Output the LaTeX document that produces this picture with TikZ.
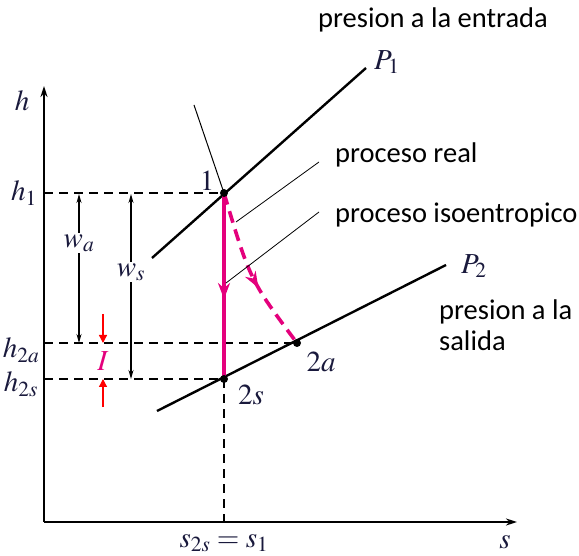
\documentclass[tikz,border=0pt]{standalone}
\usepackage{mathptmx}
\usepackage[no-math]{fontspec}
\setmainfont{Carlito}
\usetikzlibrary{arrows.meta,decorations.markings}
\definecolor{mag}{RGB}{228,0,124}
\definecolor{lbl}{RGB}{25,25,60}
\begin{document}
\begin{tikzpicture}[x=1pt,y=-1pt,
  axis/.style={line width=1.8pt,-{Stealth[length=11pt,width=7pt]}},
  isobar/.style={line width=2.4pt},
  guide/.style={dashed,dash pattern=on 9pt off 6pt,line width=1.2pt},
  dim/.style={line width=1.2pt,{Stealth[length=9pt,width=5pt]}-{Stealth[length=9pt,width=5pt]}},
  reddim/.style={red,line width=1.3pt,-{Triangle[length=8pt,width=8pt]}},
  leader/.style={line width=0.8pt},
  dot/.style={circle,fill=black,inner sep=0pt,minimum size=8pt},
  math/.style={text=lbl,font=\fontsize{29}{32}\selectfont,inner sep=1pt},
  txt/.style={font=\fontsize{28.5}{31}\selectfont,inner sep=0pt,anchor=west},
  midarrow/.style={postaction={decorate},decoration={markings,mark=at position #1 with {\arrow[solid]{Stealth[length=16pt,width=12pt]}}}}
]
\useasboundingbox (0,0) rectangle (579,556);
% axes
\coordinate (O) at (44,522);
\coordinate (ytop) at (44,86);
\coordinate (xend) at (517,522);
\draw[axis] (O) -- (ytop);
\draw[axis] (O) -- (xend);
\node[math] (hlab) at (22,101) {$h$};
\node[math] (slab) at (505,542) {$s$};
% state points
\coordinate (p1) at (224,193);
\coordinate (p2a) at (297,343);
\coordinate (p2s) at (224,379);
\coordinate (xs) at (224,522);
% guide lines
\draw[guide] (44,193) -- (p1);
\draw[guide] (44,343) -- (p2a);
\draw[guide] (44,379) -- (p2s);
\draw[guide] (p2s) -- (xs);
% isobars
\coordinate (P1a) at (152,258);
\coordinate (P1b) at (366,68);
\coordinate (P2a) at (157,411);
\coordinate (P2b) at (446,265);
\draw[isobar] (P1a) -- (P1b);
\draw[isobar] (P2a) -- (P2b);
\node[math,anchor=west] (P1lab) at (373,62) {$P_1$};
\node[math,anchor=west] (P2lab) at (460,266) {$P_2$};
% thin line to point 1
\coordinate (sat) at (194,105);
\draw[line width=1pt] (sat) -- (p1);
% processes
\draw[mag,line width=3.6pt,midarrow=0.57] (p1) -- (p2s);
\draw[mag,line width=3.6pt,dash pattern=on 12pt off 7pt,midarrow=0.6] (p1) .. controls (250,280) .. (p2a);
% points
\node[dot] at (p1) {};
\node[dot] at (p2a) {};
\node[dot] at (p2s) {};
\node[math] (l1) at (207,181) {$1$};
\node[math] (l2a) at (321,362) {$2a$};
\node[math] (l2s) at (251,395) {$2s$};
% h labels
\node[math] (h1) at (24,193) {$h_1$};
\node[math] (h2a) at (21,350) {$h_{2a}$};
\node[math] (h2s) at (21,384) {$h_{2s}$};
\node[math] (sl) at (224,543) {$s_{2s} = s_1$};
% work dimensions
\node[math] (wa) at (79,243) {$w_a$};
\draw[dim] (79,194) -- (79,343);
\fill[white] (wa.north west) rectangle (wa.south east);
\node[math] (wa) at (79,243) {$w_a$};
\node[math] (ws) at (131,272) {$w_s$};
\draw[dim] (131,194) -- (131,379);
\fill[white] (ws.north west) rectangle (ws.south east);
\node[math] (ws) at (131,272) {$w_s$};
% irreversibility
\draw[reddim] (103,314) -- (103,343);
\draw[reddim] (103,407) -- (103,379);
\node[font=\fontsize{29}{32}\selectfont,text=mag] (I) at (103,361) {$I$};
% text labels
\node[txt] (entrada) at (318,20) {presion a la entrada};
\node[txt] (real) at (335,155) {proceso real};
\node[txt] (iso) at (335,215) {proceso isoentropico};
\node[txt,align=left,anchor=north west] (salida) at (439,300) {presion a la\\salida};
\coordinate (r1) at (319,162);
\coordinate (r2) at (236,222);
\coordinate (i1) at (319,212);
\coordinate (i2) at (226,283);
\draw[leader] (r1) -- (r2);
\draw[leader] (i1) -- (i2);
\end{tikzpicture}
\end{document}
